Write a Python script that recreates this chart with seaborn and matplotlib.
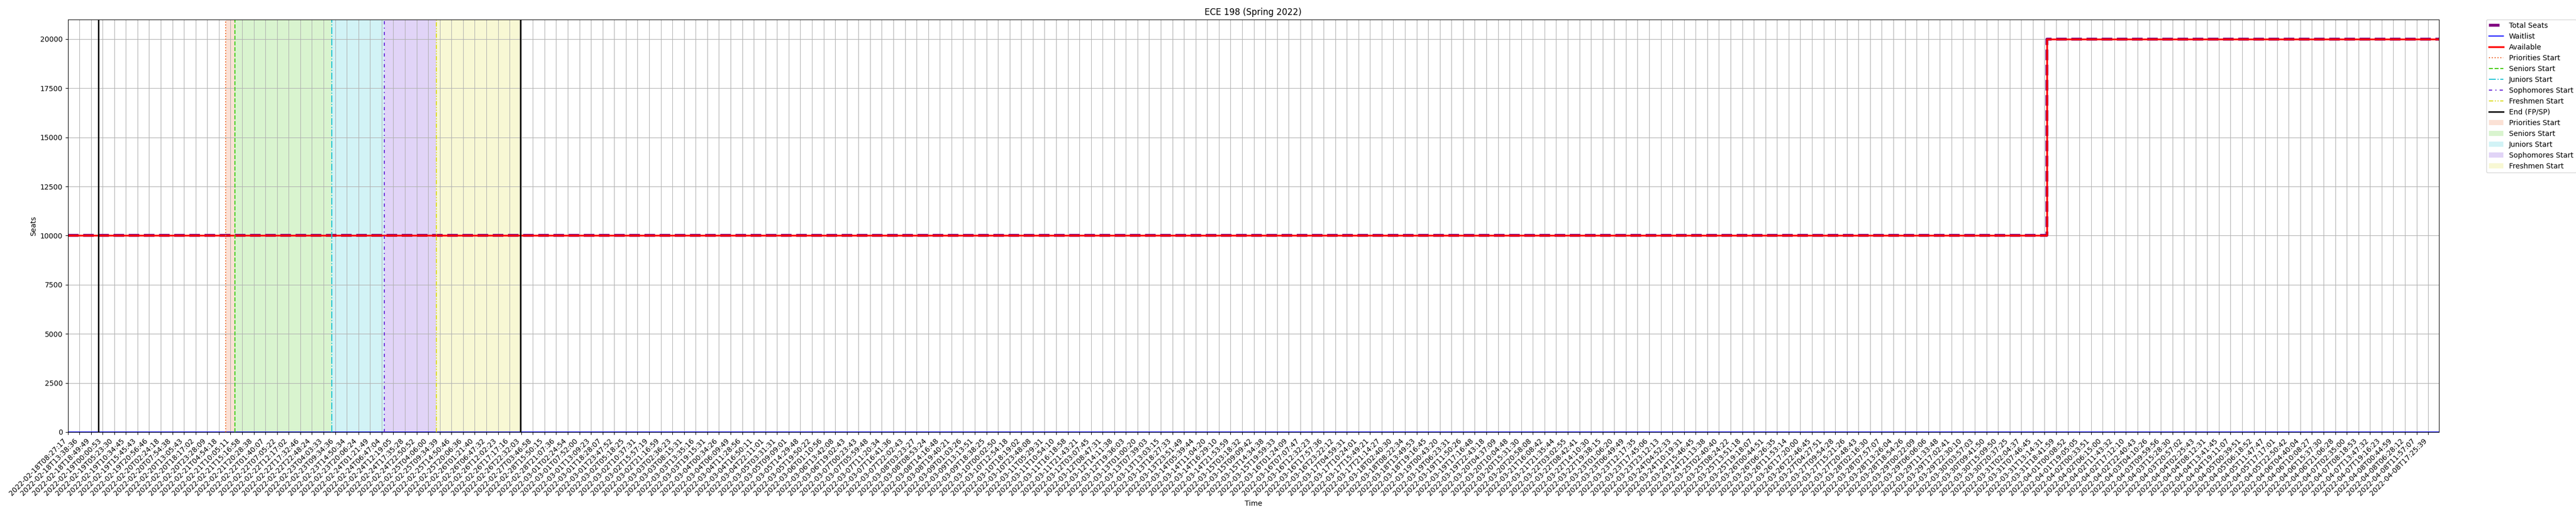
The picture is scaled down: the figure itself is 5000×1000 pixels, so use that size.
import pandas as pd
import numpy as np
import seaborn as sns
import matplotlib.pyplot as plt

# x tick labels (one per tick, ticks evenly spaced)
tick_labels = [
    '2022-02-18T08:27:17', '2022-02-18T13:38:36', '2022-02-18T18:49:49', '2022-02-19T00:00:53',
    '2022-02-19T05:23:30', '2022-02-19T10:34:45', '2022-02-19T15:45:43', '2022-02-19T20:56:46',
    '2022-02-20T02:24:18', '2022-02-20T07:54:38', '2022-02-20T13:05:43', '2022-02-20T18:17:02',
    '2022-02-20T23:28:09', '2022-02-21T04:54:18', '2022-02-21T10:05:11', '2022-02-21T15:16:58',
    '2022-02-21T20:28:38', '2022-02-22T01:40:07', '2022-02-22T07:05:22', '2022-02-22T12:17:02',
    '2022-02-22T17:32:46', '2022-02-22T22:48:24', '2022-02-23T04:03:33', '2022-02-23T09:34:36',
    '2022-02-23T14:50:34', '2022-02-23T20:06:24', '2022-02-24T01:21:49', '2022-02-24T06:47:04',
    '2022-02-24T12:19:05', '2022-02-24T17:35:28', '2022-02-24T22:50:52', '2022-02-25T04:06:00',
    '2022-02-25T09:34:39', '2022-02-25T14:50:46', '2022-02-25T20:06:36', '2022-02-26T01:21:40',
    '2022-02-26T06:47:32', '2022-02-26T12:02:23', '2022-02-26T17:17:16', '2022-02-26T22:32:03',
    '2022-02-27T03:46:58', '2022-02-28T15:50:15', '2022-02-28T21:07:36', '2022-03-01T02:24:54',
    '2022-03-01T07:52:00', '2022-03-01T13:09:23', '2022-03-01T18:28:07', '2022-03-01T23:47:52',
    '2022-03-02T05:18:25', '2022-03-02T10:37:31', '2022-03-02T15:57:19', '2022-03-02T21:16:59',
    '2022-03-03T02:36:23', '2022-03-03T08:15:31', '2022-03-03T13:35:16', '2022-03-03T19:15:31',
    '2022-03-04T00:34:26', '2022-03-04T06:09:49', '2022-03-04T11:28:56', '2022-03-04T16:50:11',
    '2022-03-04T22:11:01', '2022-03-05T03:31:31', '2022-03-05T09:09:01', '2022-03-05T14:29:48',
    '2022-03-05T19:50:22', '2022-03-06T01:10:56', '2022-03-06T13:42:08', '2022-03-06T19:02:43',
    '2022-03-07T00:23:43', '2022-03-07T05:59:48', '2022-03-07T11:20:34', '2022-03-07T16:41:36',
    '2022-03-07T22:02:43', '2022-03-08T03:23:27', '2022-03-08T08:53:24', '2022-03-08T14:16:48',
    '2022-03-08T19:40:21', '2022-03-09T01:03:26', '2022-03-09T13:13:51', '2022-03-09T18:38:25',
    '2022-03-10T00:02:50', '2022-03-10T12:54:18', '2022-03-10T18:19:02', '2022-03-10T23:48:08',
    '2022-03-11T05:29:31', '2022-03-11T10:54:10', '2022-03-11T16:18:58', '2022-03-11T21:43:21',
    '2022-03-12T03:07:45', '2022-03-12T08:47:31', '2022-03-12T14:11:38', '2022-03-12T19:36:03',
    '2022-03-13T01:00:20', '2022-03-13T07:39:03', '2022-03-13T13:03:15', '2022-03-13T18:27:33',
    '2022-03-13T23:51:49', '2022-03-14T05:39:44', '2022-03-14T11:04:20', '2022-03-14T16:29:10',
    '2022-03-14T21:53:59', '2022-03-15T03:18:32', '2022-03-15T09:09:42', '2022-03-15T14:34:38',
    '2022-03-15T19:59:33', '2022-03-16T01:24:09', '2022-03-16T07:07:47', '2022-03-16T12:32:23',
    '2022-03-16T17:57:36', '2022-03-16T23:22:12', '2022-03-17T04:59:31', '2022-03-17T10:24:01',
    '2022-03-17T15:49:21', '2022-03-17T21:14:27', '2022-03-18T02:40:30', '2022-03-18T08:22:34',
    '2022-03-18T13:49:53', '2022-03-18T19:16:45', '2022-03-19T00:43:20', '2022-03-19T06:23:31',
    '2022-03-19T11:50:26', '2022-03-19T17:16:48', '2022-03-19T22:43:18', '2022-03-20T04:37:09',
    '2022-03-20T10:04:48', '2022-03-20T15:31:30', '2022-03-20T20:58:08', '2022-03-21T16:08:42',
    '2022-03-21T21:35:44', '2022-03-22T03:02:55', '2022-03-22T08:42:41', '2022-03-22T14:10:30',
    '2022-03-22T19:38:15', '2022-03-23T01:06:20', '2022-03-23T06:49:49', '2022-03-23T12:17:35',
    '2022-03-23T17:45:06', '2022-03-23T23:12:13', '2022-03-24T04:52:33', '2022-03-24T10:19:31',
    '2022-03-24T15:46:45', '2022-03-24T21:13:38', '2022-03-25T02:40:40', '2022-03-25T08:24:22',
    '2022-03-25T13:51:18', '2022-03-25T19:18:07', '2022-03-26T00:44:51', '2022-03-26T06:26:35',
    '2022-03-26T11:53:14', '2022-03-26T17:20:00', '2022-03-26T22:46:45', '2022-03-27T04:27:51',
    '2022-03-27T09:54:28', '2022-03-27T15:21:26', '2022-03-27T20:48:43', '2022-03-28T02:16:30',
    '2022-03-28T07:57:07', '2022-03-28T13:26:04', '2022-03-28T18:54:26', '2022-03-29T00:22:09',
    '2022-03-29T06:06:06', '2022-03-29T11:33:48', '2022-03-29T17:02:41', '2022-03-29T22:30:10',
    '2022-03-30T03:57:03', '2022-03-30T09:41:50', '2022-03-30T15:09:50', '2022-03-30T20:37:25',
    '2022-03-31T02:04:37', '2022-03-31T07:46:45', '2022-03-31T13:14:31', '2022-03-31T18:41:59',
    '2022-04-01T00:08:52', '2022-04-01T19:05:05', '2022-04-02T00:33:51', '2022-04-02T06:15:00',
    '2022-04-02T11:43:32', '2022-04-02T17:12:10', '2022-04-02T22:40:43', '2022-04-03T04:10:26',
    '2022-04-03T09:59:56', '2022-04-03T15:28:30', '2022-04-03T20:57:02', '2022-04-04T02:25:43',
    '2022-04-04T08:12:31', '2022-04-04T13:41:45', '2022-04-04T19:11:07', '2022-04-05T00:39:51',
    '2022-04-05T06:18:52', '2022-04-05T11:47:47', '2022-04-05T17:17:01', '2022-04-05T22:50:42',
    '2022-04-06T04:40:04', '2022-04-06T10:08:27', '2022-04-06T15:37:30', '2022-04-06T21:06:28',
    '2022-04-07T02:35:00', '2022-04-07T08:18:53', '2022-04-07T13:47:32', '2022-04-07T19:16:23',
    '2022-04-08T00:44:59', '2022-04-08T06:28:12', '2022-04-08T11:57:07', '2022-04-08T17:25:39',
]

# seat counts at the points where they change (position in tick units)
sample_pos = [0, 170.2, 170.2, 203.9]
total_seats = [10000, 10000, 20000, 20000]
available = [10000, 10000, 20000, 20000]
waitlist = [0, 0, 0, 0]

phase_names = ['Priorities Start', 'Seniors Start', 'Juniors Start', 'Sophomores Start', 'Freshmen Start']
phase_start = [13.575, 14.386, 22.71, 27.24, 31.71]
end_pos = [2.645, 38.93]

phase_colors = ['#ee6a2e', '#44cc11', '#22c5d5', '#6a2ad8', '#dcdc2a']
phase_styles = [':', '--', '-.', (0, (3, 3, 1, 3)), (0, (4, 1.5, 1, 1.5, 1, 1.5))]

df = pd.DataFrame({'pos': sample_pos, 'total': total_seats,
                   'avail': available, 'wait': waitlist})

fig, ax = plt.subplots(figsize=(50, 10), dpi=100)
fig.subplots_adjust(left=0.0263, right=0.9467, top=0.9623, bottom=0.161)

sns.lineplot(data=df, x='pos', y='total', estimator=None, sort=False, ax=ax,
             color='purple', lw=4, linestyle='--', label='Total Seats')
sns.lineplot(data=df, x='pos', y='wait', estimator=None, sort=False, ax=ax,
             color='blue', lw=1.5, label='Waitlist')
sns.lineplot(data=df, x='pos', y='avail', estimator=None, sort=False, ax=ax,
             color='red', lw=2.5, label='Available')

for name, x, c, ls in zip(phase_names, phase_start, phase_colors, phase_styles):
    ax.axvline(x, color=c, linestyle=ls, lw=1.5, label=name)
ax.axvline(end_pos[0], color='black', lw=2)
ax.axvline(end_pos[1], color='black', lw=2, label='End (FP/SP)')

bounds = phase_start + [end_pos[1]]
for i, name in enumerate(phase_names):
    ax.axvspan(bounds[i], bounds[i + 1], color=phase_colors[i], alpha=0.2, lw=0, label=name)

ax.set_xticks(range(len(tick_labels)))
ax.set_xticklabels(tick_labels, rotation=45, ha='right')
ax.set_xlim(0, sample_pos[-1])
ax.set_ylim(0, 21000)
ax.grid(True)
ax.set_title('ECE 198 (Spring 2022)')
ax.set_xlabel('Time')
ax.set_ylabel('Seats')
ax.legend(bbox_to_anchor=(1.02, 1), loc='upper left', borderaxespad=0)

plt.savefig('out.png')
